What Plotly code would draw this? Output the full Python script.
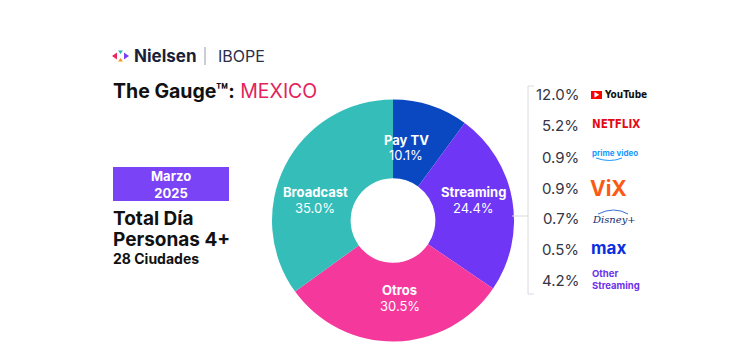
import plotly.graph_objects as go

W, H = 738, 353

categories = ["Pay TV", "Streaming", "Otros", "Broadcast"]
shares = [10.1, 24.4, 30.5, 35.0]
slice_colors = ["#0a48c2", "#6f36f5", "#f5389c", "#35bdb9"]

stream_values = ["12.0%", "5.2%", "0.9%", "0.9%", "0.7%", "0.5%", "4.2%"]

FONT = "Inter, Roboto, Arial, sans-serif"
NARROW = "Liberation Sans Narrow, DejaVu Sans Condensed, Arial Narrow, sans-serif"


def px(x):
    return x / W


def py(y):
    return 1 - y / H


# pie geometry (pixels)
CX, CY, R = 393, 220.5, 121
# label placement (pixel offset from pie centre) for each slice label
label_offsets = [(13, -73), (80, -21), (7, -83 + 160), (-78, -21)]

fig = go.Figure()

fig.add_trace(go.Pie(
    labels=categories,
    values=shares,
    sort=False,
    direction="clockwise",
    rotation=0,
    hole=0.35,
    marker=dict(colors=slice_colors, line=dict(width=0)),
    textinfo="none",
    hoverinfo="label+percent",
    domain=dict(x=[px(CX - R), px(CX + R)], y=[py(CY + R), py(CY - R)]),
    showlegend=False,
))

annotations = []
shapes = []


def txt(x, y, text, size, color="#1b1f33", xanchor="left", family=FONT, **kw):
    annotations.append(dict(
        x=px(x), y=py(y), xref="paper", yref="paper", text=text, showarrow=False,
        xanchor=xanchor, yanchor="middle", font=dict(family=family, size=size, color=color), **kw))


for name, val, (dx, dy) in zip(categories, shares, label_offsets):
    txt(CX + dx, CY + dy - 8, f"<b>{name}</b>", 13, "white", xanchor="center")
    txt(CX + dx, CY + dy + 8, f"{val:.1f}%", 13, "white", xanchor="center")

# Nielsen logo icon (four small triangles)
shapes += [
    dict(type="path", xref="paper", yref="paper", line=dict(width=0), fillcolor="#e8265e",
         path=f"M {px(112)} {py(56)} L {px(117)} {py(52.5)} L {px(117)} {py(59.5)} Z"),
    dict(type="path", xref="paper", yref="paper", line=dict(width=0), fillcolor="#2fb6b3",
         path=f"M {px(118)} {py(50.5)} L {px(123)} {py(50.5)} L {px(120.5)} {py(54)} Z"),
    dict(type="path", xref="paper", yref="paper", line=dict(width=0), fillcolor="#f29a1f",
         path=f"M {px(118)} {py(61.5)} L {px(123)} {py(61.5)} L {px(120.5)} {py(58)} Z"),
    dict(type="path", xref="paper", yref="paper", line=dict(width=0), fillcolor="#7a43f5",
         path=f"M {px(129)} {py(56)} L {px(124)} {py(52.5)} L {px(124)} {py(59.5)} Z"),
]
txt(132, 56, "<b>Nielsen</b>", 17, "#1a1f3a")
shapes.append(dict(type="line", xref="paper", yref="paper", x0=px(205), x1=px(205), y0=py(47), y1=py(65),
                   line=dict(color="#9a9aa8", width=1)))
txt(216, 56, "IBOPE", 16, "#2a2f4a")

txt(111, 91, "<b>The Gauge™:</b> <span style='color:#e3245c'>MEXICO</span>", 19.5, "#111111")

# Purple date box
shapes.append(dict(type="rect", xref="paper", yref="paper", x0=px(113), x1=px(229), y0=py(201), y1=py(167),
                   fillcolor="#7a43f5", line=dict(width=0)))
txt(171, 184, "<b>Marzo<br>2025</b>", 13, "white", xanchor="center")

txt(111, 218, "<b>Total Día</b>", 19, "#111111")
txt(111, 239, "<b>Personas 4+</b>", 19, "#111111")
txt(111, 258, "<b>28 Ciudades</b>", 14, "#111111")

# Bracket linking Streaming to its breakdown
br = "#d8d8e2"
shapes += [
    dict(type="line", xref="paper", yref="paper", x0=px(528), x1=px(528), y0=py(86), y1=py(294), line=dict(color=br, width=1)),
    dict(type="line", xref="paper", yref="paper", x0=px(528), x1=px(534), y0=py(86), y1=py(86), line=dict(color=br, width=1)),
    dict(type="line", xref="paper", yref="paper", x0=px(528), x1=px(534), y0=py(294), y1=py(294), line=dict(color=br, width=1)),
    dict(type="line", xref="paper", yref="paper", x0=px(512), x1=px(528), y0=py(216), y1=py(216), line=dict(color=br, width=1)),
]

row_y = [95, 126, 157, 188, 218, 249, 280]
for v, y in zip(stream_values, row_y):
    txt(581, y, v, 15, "#353545", xanchor="right")

# Brand marks as styled text
# YouTube
shapes.append(dict(type="rect", xref="paper", yref="paper", x0=px(591), x1=px(602), y0=py(99), y1=py(91),
                   fillcolor="#ff0000", line=dict(width=0)))
txt(596.5, 95, "▶", 6, "white", xanchor="center")
txt(602, 95, "<b>YouTube</b>", 10, "#111111", family=NARROW)
txt(590, 124, "<b>NETFLIX</b>", 11.5, "#e50914", family=NARROW)
txt(590, 153, "<b>prime video</b>", 8, "#1a98ff")
shapes.append(dict(type="path", xref="paper", yref="paper", line=dict(color="#1a98ff", width=1),
                   path=f"M {px(596)} {py(158)} Q {px(610)} {py(163)} {px(622)} {py(158)}"))
txt(588, 188, "<b>ViX</b>", 21, "#fa5a14")
txt(590, 219, "<i>Disney+</i>", 10, "#0c2a6e", family="DejaVu Serif, serif")
shapes.append(dict(type="path", xref="paper", yref="paper", line=dict(color="#3a6fd8", width=1),
                   path=f"M {px(598)} {py(214)} Q {px(614)} {py(206)} {px(628)} {py(214)}"))
txt(589, 248, "<b>max</b>", 17, "#0a2fe0")
txt(590, 280, "<b>Other<br>Streaming</b>", 9.5, "#6b33e8", align="left")

fig.update_layout(
    width=W, height=H, autosize=False,
    margin=dict(l=0, r=0, t=0, b=0),
    paper_bgcolor="white", plot_bgcolor="white",
    annotations=annotations, shapes=shapes,
    font=dict(family=FONT),
)

fig.write_html("out.html")
